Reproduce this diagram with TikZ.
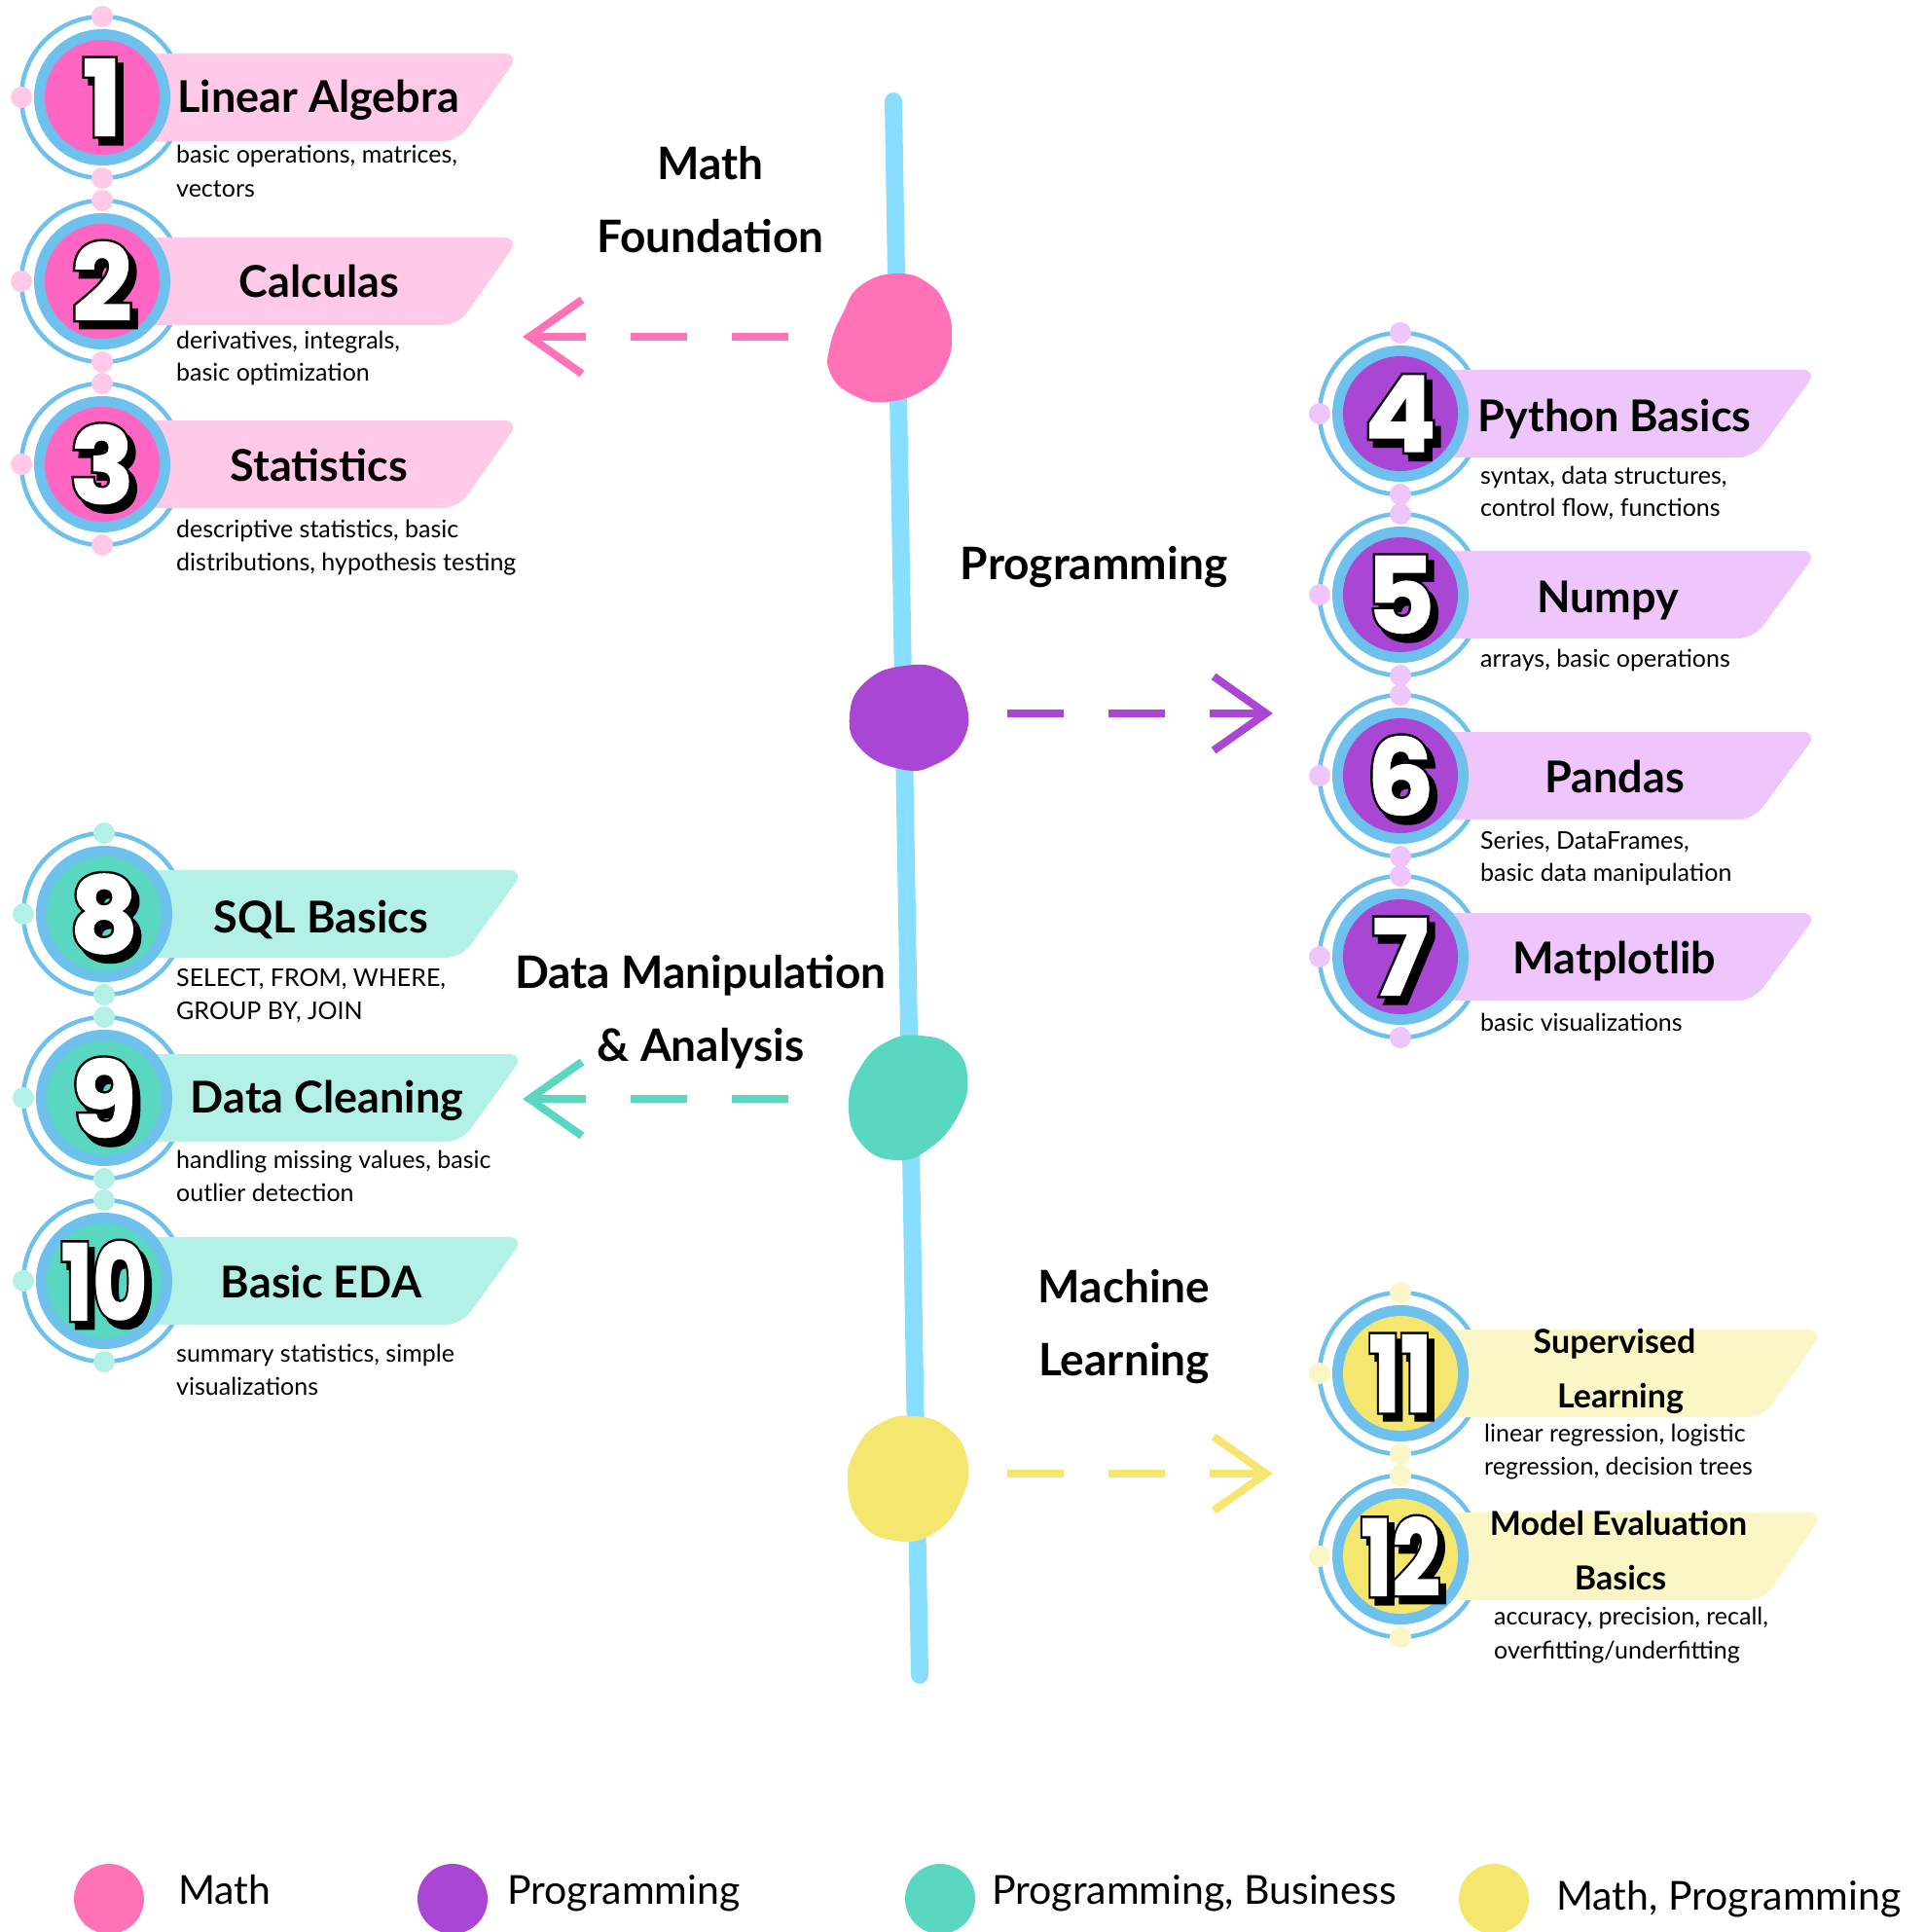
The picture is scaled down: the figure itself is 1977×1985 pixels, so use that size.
\documentclass[tikz,border=0pt]{standalone}
\usepackage{fontspec}
\setmainfont{Lato}
\newfontfamily\numout{Poppins}[UprightFont={* Bold}, FakeBold=6]
\newfontfamily\numin{Poppins}[UprightFont={* Bold}, FakeBold=1.5]
\definecolor{pinkD}{HTML}{FF72B6}
\definecolor{pinkC}{HTML}{FF66C4}
\definecolor{pinkL}{HTML}{FFC9E7}
\definecolor{purpD}{HTML}{A946D3}
\definecolor{purpL}{HTML}{EEC6FC}
\definecolor{tealD}{HTML}{5AD7C1}
\definecolor{tealL}{HTML}{B3F0E6}
\definecolor{yelD}{HTML}{F5E66F}
\definecolor{yelL}{HTML}{FBF6C5}
\definecolor{ringB}{HTML}{6EC1EC}
\definecolor{lineB}{HTML}{87DEFE}
\tikzset{
  head/.style={font=\fontsize{45}{50}\selectfont\bfseries, anchor=base, inner sep=0},
  heads/.style={font=\fontsize{34}{40}\selectfont\bfseries, anchor=base, inner sep=0},
  desc/.style={font=\fontsize{25}{34}\selectfont, anchor=base west, inner sep=0},
  cat/.style={font=\fontsize{46}{50}\selectfont\bfseries, anchor=base, inner sep=0},
  leg/.style={font=\fontsize{41}{48}\selectfont, anchor=base west, inner sep=0},
  numfg/.style={font=\numin\fontsize{108}{108}\selectfont, text=white, inner sep=0},
  numol/.style={font=\numout\fontsize{108}{108}\selectfont, text=black, inner sep=0},
  dashline/.style={line width=8, dash pattern=on 58 off 46},
  chev/.style={line width=8, line join=miter},
}
% #1 name, #2 cx, #3 cy, #4 light, #5 dark, #6 number, #7 top-right x, #8 bottom-right x, #9 xscale
\newcommand\roaditem[9]{%
  \draw[ringB, line width=4.5] (#2,#3) circle[radius=83];
  \fill[#4, rounded corners=16] (#2,#3-45) -- (#7,#3-45) -- (#8,#3+45) -- (#2,#3+45) -- cycle;
  \fill[#4] (#2,#3-83) circle[radius=11] (#2,#3+83) circle[radius=11] (#2-83,#3) circle[radius=11];
  \fill[ringB] (#2,#3) circle[radius=70];
  \node[circle, fill=#5, minimum size=118, inner sep=0] (#1) at (#2,#3) {};
  \node[numol, xscale=#9] (#1s) at (#2+6,#3+7) {#6};
  \node[numol, xscale=#9] (#1o) at (#2,#3) {#6};
  \node[numfg, xscale=#9] (#1n) at (#2,#3) {#6};
}
\begin{document}
\begin{tikzpicture}[x=1pt,y=-1pt]
\useasboundingbox (0,0) rectangle (1977,1985);
\fill[white] (0,0) rectangle (1977,1985);
% timeline
\coordinate (tlA) at (918,104);
\coordinate (tlB) at (945,1721);
\draw[lineB, line width=18, line cap=round] (tlA) -- (tlB);
% blobs
\fill[pinkD] plot[smooth cycle, tension=0.8] coordinates {(923,281) (955,292) (972,315) (978,343) (972,375) (950,400) (910,413) (875,405) (853,383) (853,355) (866,322) (885,293)};
\fill[purpD] plot[smooth cycle, tension=0.8] coordinates {(930,684) (970,690) (992,720) (990,760) (960,786) (925,790) (885,770) (873,735) (890,700)};
\fill[tealD] plot[smooth cycle, tension=0.8] coordinates {(945,1064) (978,1075) (994,1105) (985,1145) (955,1180) (920,1192) (885,1175) (872,1135) (885,1095) (912,1070)};
\fill[yelD] plot[smooth cycle, tension=0.8] coordinates {(940,1455) (975,1468) (994,1500) (988,1540) (960,1575) (920,1583) (885,1565) (871,1525) (880,1488) (905,1462)};
\coordinate (bM) at (915,347);
\coordinate (bP) at (933,737);
\coordinate (bD) at (933,1128);
\coordinate (bL) at (933,1519);
% arrows
\coordinate (aMs) at (810,346); \coordinate (aMt) at (544,346);
\coordinate (aPs) at (1035,733); \coordinate (aPt) at (1301,733);
\coordinate (aDs) at (810,1129); \coordinate (aDt) at (544,1129);
\coordinate (aLs) at (1035,1514); \coordinate (aLt) at (1301,1514);
\draw[pinkD, dashline] (aMt) -- (aMs);
\draw[pinkD, chev] ([xshift=54,yshift=38]aMt) -- (aMt) -- ([xshift=54,yshift=-38]aMt);
\draw[purpD, dashline] (aPt) -- (aPs);
\draw[purpD, chev] ([xshift=-54,yshift=38]aPt) -- (aPt) -- ([xshift=-54,yshift=-38]aPt);
\draw[tealD, dashline] (aDt) -- (aDs);
\draw[tealD, chev] ([xshift=54,yshift=38]aDt) -- (aDt) -- ([xshift=54,yshift=-38]aDt);
\draw[yelD, dashline] (aLt) -- (aLs);
\draw[yelD, chev] ([xshift=-54,yshift=38]aLt) -- (aLt) -- ([xshift=-54,yshift=-38]aLt);
% category labels
\node[cat] (catM1) at (730,185) {Math};
\node[cat] (catM2) at (730,260) {Foundation};
\node[cat] (catP) at (1124,595) {Programming};
\node[cat] (catD1) at (720,1015) {Data Manipulation};
\node[cat] (catD2) at (720,1090) {\& Analysis};
\node[cat] (catL1) at (1155,1338) {Machine};
\node[cat] (catL2) at (1155,1413) {Learning};
% pink items
\roaditem{c1}{105}{100}{pinkL}{pinkC}{1}{534}{471}{1}
\roaditem{c2}{105}{289}{pinkL}{pinkC}{2}{534}{471}{1}
\roaditem{c3}{105}{477}{pinkL}{pinkC}{3}{534}{471}{1}
\node[head] (h1) at (327,116) {Linear Algebra};
\node[desc] (d1a) at (181,168) {basic operations, matrices,};
\node[desc] (d1b) at (181,203) {vectors};
\node[head] (h2) at (328,305) {Calculas};
\node[desc] (d2a) at (181,358) {derivatives, integrals,};
\node[desc] (d2b) at (181,391) {basic optimization};
\node[head] (h3) at (328,494) {Statistics};
\node[desc] (d3a) at (181,552) {descriptive statistics, basic};
\node[desc] (d3b) at (181,586) {distributions, hypothesis testing};
% purple items
\roaditem{c4}{1439}{425}{purpL}{purpD}{4}{1868}{1802}{1}
\roaditem{c5}{1439}{611}{purpL}{purpD}{5}{1868}{1802}{1}
\roaditem{c6}{1439}{797}{purpL}{purpD}{6}{1868}{1802}{1}
\roaditem{c7}{1439}{983}{purpL}{purpD}{7}{1868}{1802}{1}
\node[head] (h4) at (1659,443) {Python Basics};
\node[desc] (d4a) at (1521,497) {syntax, data structures,};
\node[desc] (d4b) at (1521,530) {control flow, functions};
\node[head] (h5) at (1652,629) {Numpy};
\node[desc] (d5a) at (1521,685) {arrays, basic operations};
\node[head] (h6) at (1659,814) {Pandas};
\node[desc] (d6a) at (1521,872) {Series, DataFrames,};
\node[desc] (d6b) at (1521,905) {basic data manipulation};
\node[head] (h7) at (1659,1000) {Matplotlib};
\node[desc] (d7a) at (1521,1059) {basic visualizations};
% teal items
\roaditem{c8}{107}{939}{tealL}{tealD}{8}{539}{474}{1}
\roaditem{c9}{107}{1128}{tealL}{tealD}{9}{539}{474}{1}
\roaditem{c10}{107}{1316}{tealL}{tealD}{10}{539}{474}{0.8}
\node[head] (h8) at (330,958) {SQL Basics};
\node[desc] (d8a) at (181,1013) {SELECT, FROM, WHERE,};
\node[desc] (d8b) at (181,1047) {GROUP BY, JOIN};
\node[head] (h9) at (336,1143) {Data Cleaning};
\node[desc] (d9a) at (181,1200) {handling missing values, basic};
\node[desc] (d9b) at (181,1234) {outlier detection};
\node[head] (h10) at (330,1333) {Basic EDA};
\node[desc] (d10a) at (181,1399) {summary statistics, simple};
\node[desc] (d10b) at (181,1433) {visualizations};
% yellow items
\roaditem{c11}{1439}{1411}{yelL}{yelD}{11}{1874}{1812}{0.8}
\roaditem{c12}{1439}{1599}{yelL}{yelD}{12}{1874}{1812}{0.8}
\node[heads] (h11a) at (1659,1390) {Supervised};
\node[heads] (h11b) at (1665,1446) {Learning};
\node[desc] (d11a) at (1525,1481) {linear regression, logistic};
\node[desc] (d11b) at (1525,1515) {regression, decision trees};
\node[heads] (h12a) at (1663,1577) {Model Evaluation};
\node[heads] (h12b) at (1665,1633) {Basics};
\node[desc] (d12a) at (1535,1669) {accuracy, precision, recall,};
\node[desc] (d12b) at (1535,1704) {overfitting/underfitting};
% legend
\fill[pinkD] (112,1951) circle[radius=36];
\fill[purpD] (465,1951) circle[radius=36];
\fill[tealD] (966,1951) circle[radius=36];
\fill[yelD] (1535,1951) circle[radius=36];
\node[leg] (l1) at (183,1956) {Math};
\node[leg] (l2) at (521,1956) {Programming};
\node[leg] (l3) at (1019,1956) {Programming, Business};
\node[leg] (l4) at (1599,1962) {Math, Programming};
\end{tikzpicture}
\end{document}
